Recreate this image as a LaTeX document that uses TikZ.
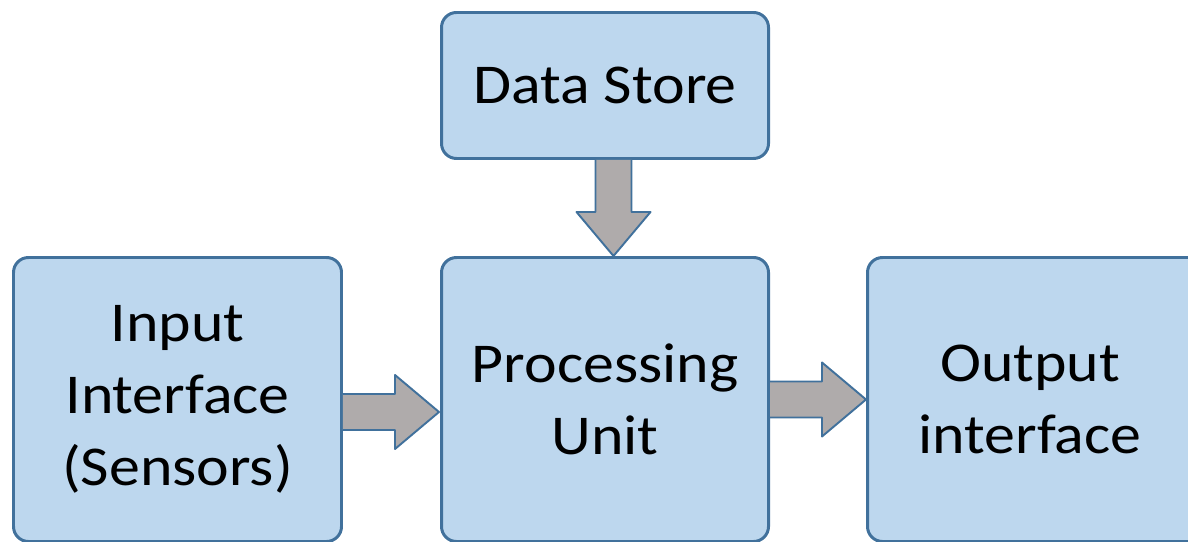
\documentclass[tikz,border=0pt]{standalone}
\usepackage{fontspec}
\setmainfont{Carlito}[FakeStretch=1.1]
\usepackage{tikz}
\usetikzlibrary{calc}

\definecolor{boxfill}{HTML}{BDD7EE}
\definecolor{boxline}{HTML}{41719C}
\definecolor{arrowgray}{HTML}{AFABAB}

\tikzset{
  blocktext/.style={align=center, font=\fontsize{32}{41}\selectfont},
  block/.style={draw=boxline, fill=boxfill, line width=1.7pt, rounded corners=0.3cm,
                blocktext, inner sep=0pt},
  fatarrow/.pic={
    \fill[arrowgray] (0,0.36) -- (1.04,0.36) -- (1.04,0.74) -- (1.92,0) -- (1.04,-0.74) -- (1.04,-0.36) -- (0,-0.36) -- cycle;
    \draw[boxline, line width=1.1pt, line join=round]
      (0,0.36) -- (1.04,0.36) -- (1.04,0.74) -- (1.92,0) -- (1.04,-0.74) -- (1.04,-0.36) -- (0,-0.36);
  }
}

\begin{document}
\begin{tikzpicture}
    \useasboundingbox (0,0) rectangle (23.76,10.82);
    \clip (0,0) rectangle (23.76,10.82);

    \node[block, minimum width=6.54cm, minimum height=2.92cm] (store) at (12.1,9.11) {Data Store};
    \node[block, minimum width=6.56cm, minimum height=5.68cm] (input) at (3.55,2.83) {Input\\Interface\\(Sensors)};
    \node[block, minimum width=6.54cm, minimum height=5.68cm] (proc) at (12.1,2.83) {Processing\\Unit};
    % runs off the right edge, so its text sits left of centre
    \node[block, minimum width=6.9cm, minimum height=5.68cm,
          label={[blocktext, xshift=-0.2cm]center:Output\\interface}] (output) at (20.8,2.83) {};

    % block arrows between the boxes
    \pic at ($(input.east)+(0,-0.25)$) {fatarrow};
    \pic at (proc.east) {fatarrow};
    \pic[rotate=-90] at ($(store.south)+(0.17,0)$) {fatarrow};
\end{tikzpicture}
\end{document}
